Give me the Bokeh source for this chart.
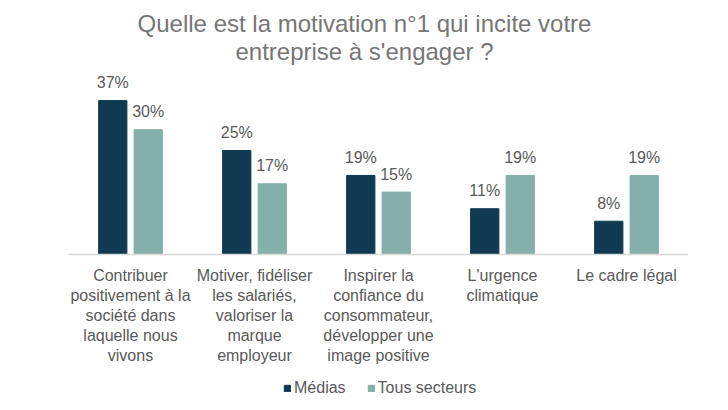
from bokeh.plotting import figure
from bokeh.models import Range1d, FactorRange, Span, Label, ColumnDataSource
from bokeh.transform import dodge
from bokeh.core.properties import value
from bokeh.embed import file_html
from bokeh.resources import INLINE

# ---- data ----
categories = [
    "Contribuer\npositivement à la\nsociété dans\nlaquelle nous\nvivons",
    "Motiver, fidéliser\nles salariés,\nvaloriser la\nmarque\nemployeur",
    "Inspirer la\nconfiance du\nconsommateur,\ndévelopper une\nimage positive",
    "L'urgence\nclimatique",
    "Le cadre légal",
]
medias = [37, 25, 19, 11, 8]
tous_secteurs = [30, 17, 15, 19, 19]
series_names = ["Médias", "Tous secteurs"]
title_lines = ["Quelle est la motivation n°1 qui incite votre", "entreprise à s'engager ?"]

# ---- style ----
FONT = "Liberation Sans"
NAVY = "#0F3A52"
TEAL = "#84AFAA"
GREY = "#595959"
TITLE_GREY = "#767676"
W, H = 720, 402
LEFT = 68

src = ColumnDataSource(dict(
    cat=categories,
    medias=medias,
    tous=tous_secteurs,
    medias_lbl=[f"{v}%" for v in medias],
    tous_lbl=[f"{v}%" for v in tous_secteurs],
))

p = figure(
    width=W, height=H,
    x_range=FactorRange(factors=categories, range_padding=0),
    y_range=Range1d(-35.58, 61.06),
    output_backend="svg", toolbar_location=None,
    x_axis_location=None, y_axis_location=None,
    min_border_left=LEFT, min_border_right=W - LEFT - 620,
    min_border_top=0, min_border_bottom=0,
    outline_line_color=None,
)
p.grid.visible = False

OFF = 0.143
BW = 0.228
p.vbar(x=dodge("cat", -OFF, range=p.x_range), top="medias", width=BW,
       source=src, color=NAVY, legend_label=series_names[0])
p.vbar(x=dodge("cat", OFF, range=p.x_range), top="tous", width=BW,
       source=src, color=TEAL, legend_label=series_names[1])

common = dict(text_align="center", text_font=value(FONT), text_font_size="16px",
              text_color=GREY)
p.text(x=dodge("cat", -OFF, range=p.x_range), y="medias", text="medias_lbl",
       source=src, text_baseline="alphabetic", y_offset=-18, **common)
p.text(x=dodge("cat", OFF, range=p.x_range), y="tous", text="tous_lbl",
       source=src, text_baseline="alphabetic", y_offset=-18, **common)

# category labels under the baseline
p.text(x="cat", y=0, text="cat", source=src, text_baseline="top", y_offset=13,
       text_line_height=1.17, **common)

p.add_layout(Span(location=0, dimension="width", line_color="#D9D9D9", line_width=1.5))

# title (centred on the whole figure)
for i, line in enumerate(title_lines):
    p.add_layout(Label(x=364 - LEFT, y=H - 23 - 28 * i, x_units="screen", y_units="screen",
                       text=line, text_align="center", text_baseline="alphabetic",
                       text_font=FONT, text_font_size="24px", text_color=TITLE_GREY))

lg = p.legend[0]
lg.location = (215, 4)
lg.orientation = "horizontal"
lg.glyph_width = 8
lg.glyph_height = 8
lg.label_standoff = 3
lg.spacing = 21
lg.padding = 0
lg.margin = 0
lg.border_line_color = None
lg.background_fill_alpha = 0
lg.label_text_font = FONT
lg.label_text_font_size = "16px"
lg.label_text_color = GREY
lg.label_height = 20

open("out.html", "w").write(file_html(p, INLINE))
